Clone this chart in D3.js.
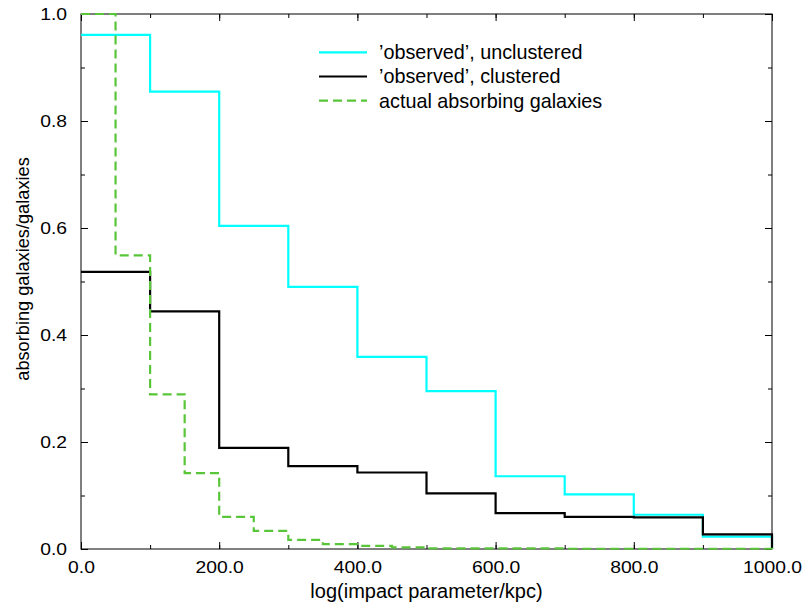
<!DOCTYPE html>
<html>
<head>
<meta charset="utf-8">
<script src="https://cdn.jsdelivr.net/npm/d3@7"></script>
<style>
  html, body { margin: 0; padding: 0; background: #fff; }
  text { font-family: "Liberation Sans", Arial, Helvetica, sans-serif; fill: #000; }
</style>
</head>
<body>
<div id="chart"></div>
<script>
// histogram bins (impact parameter, kpc)
const coarseEdges = [0, 100, 200, 300, 400, 500, 600, 700, 800, 900, 1000];
const fineEdges = [0, 50, 100, 150, 200, 250, 300, 350, 400, 450, 500,
                   550, 600, 650, 700, 750, 800, 850, 900, 950, 1000];

// fraction of absorbing galaxies per bin
const unclustered = [0.961, 0.855, 0.604, 0.490, 0.359, 0.295, 0.136, 0.102, 0.064, 0.023];
const clustered = [0.518, 0.444, 0.189, 0.155, 0.143, 0.104, 0.067, 0.060, 0.059, 0.0275];
const actual = [1.0, 0.549, 0.289, 0.142, 0.060, 0.034, 0.017, 0.009, 0.006, 0.003,
                0.001, 0.001, 0.001, 0.001, 0.0005, 0.0005, 0.0005, 0.0005, 0.0005, 0.0005];

const legendLabels = ["\u2019observed\u2019, unclustered", "\u2019observed\u2019, clustered", "actual absorbing galaxies"];
const xTickValues = [0, 200, 400, 600, 800, 1000];
const yTickValues = [0, 0.2, 0.4, 0.6, 0.8, 1.0];

const width = 804, height = 604;
const margin = { top: 14, right: 32, bottom: 55, left: 81 };

const x = d3.scaleLinear().domain([0, 1000]).range([margin.left, width - margin.right]);
const y = d3.scaleLinear().domain([0, 1]).range([height - margin.bottom, margin.top]);

const svg = d3.select("#chart").append("svg")
    .attr("width", width)
    .attr("height", height);

svg.append("rect").attr("width", width).attr("height", height).attr("fill", "#fff");

// stretch tick text horizontally (the original labels are wide)
function stretch(sel, k) {
    sel.each(function () {
        const w = this.getComputedTextLength();
        d3.select(this).attr("textLength", w * k).attr("lengthAdjust", "spacingAndGlyphs");
    });
}

const fmt = d3.format(".1f");
const x0 = height - margin.bottom, y0 = margin.left;

// minor ticks on all sides
const minorX = d3.range(0, 1001, 100);
const minorY = d3.range(0, 1.001, 0.1);
svg.append("g").attr("transform", `translate(0,${x0})`)
    .call(d3.axisBottom(x).tickValues(minorX).tickSize(-4).tickFormat(""))
    .call(g => g.select(".domain").remove());
svg.append("g").attr("transform", `translate(0,${margin.top})`)
    .call(d3.axisTop(x).tickValues(minorX).tickSize(-4).tickFormat(""))
    .call(g => g.select(".domain").remove());
svg.append("g").attr("transform", `translate(${y0},0)`)
    .call(d3.axisLeft(y).tickValues(minorY).tickSize(-4).tickFormat(""))
    .call(g => g.select(".domain").remove());
svg.append("g").attr("transform", `translate(${width - margin.right},0)`)
    .call(d3.axisRight(y).tickValues(minorY).tickSize(-4).tickFormat(""))
    .call(g => g.select(".domain").remove());

// major ticks + labels
const xAxis = svg.append("g").attr("transform", `translate(0,${x0})`)
    .call(d3.axisBottom(x).tickValues(xTickValues).tickSize(-7).tickPadding(12).tickFormat(fmt))
    .call(g => g.select(".domain").remove());
const yAxis = svg.append("g").attr("transform", `translate(${y0},0)`)
    .call(d3.axisLeft(y).tickValues(yTickValues).tickSize(-7).tickPadding(14).tickFormat(fmt))
    .call(g => g.select(".domain").remove());
svg.append("g").attr("transform", `translate(0,${margin.top})`)
    .call(d3.axisTop(x).tickValues(xTickValues).tickSize(-7).tickFormat(""))
    .call(g => g.select(".domain").remove());
svg.append("g").attr("transform", `translate(${width - margin.right},0)`)
    .call(d3.axisRight(y).tickValues(yTickValues).tickSize(-7).tickFormat(""))
    .call(g => g.select(".domain").remove());

svg.selectAll(".tick line").attr("stroke", "#000").attr("stroke-width", 1);
xAxis.selectAll("text").attr("font-size", 16.5).style("font-family", "Liberation Sans, Arial, sans-serif");
yAxis.selectAll("text").attr("font-size", 16.5).style("font-family", "Liberation Sans, Arial, sans-serif");
stretch(xAxis.selectAll("text"), 1.17);
stretch(yAxis.selectAll("text"), 1.17);

// frame
svg.append("rect")
    .attr("x", x(0)).attr("y", y(1))
    .attr("width", x(1000) - x(0)).attr("height", y(0) - y(1))
    .attr("fill", "none").attr("stroke", "#000").attr("stroke-width", 1);

// axis titles
svg.append("text")
    .attr("x", (x(0) + x(1000)) / 2).attr("y", 598)
    .attr("text-anchor", "middle").attr("font-size", 20)
    .text("log(impact parameter/kpc)");
svg.append("text")
    .attr("transform", `translate(29,${269}) rotate(-90)`)
    .attr("text-anchor", "middle").attr("font-size", 18.2)
    .text("absorbing galaxies/galaxies");

// step histograms (no rise at x=0, drop to zero at the far end)
function stepPoints(edges, vals) {
    const pts = [];
    vals.forEach((v, i) => { pts.push([edges[i], v]); pts.push([edges[i + 1], v]); });
    pts.push([edges[edges.length - 1], 0]);
    return pts;
}
const line = d3.line().x(d => x(d[0])).y(d => y(d[1]));

const series = [
    { vals: unclustered, edges: coarseEdges, color: "#00ffff", dash: null },
    { vals: clustered, edges: coarseEdges, color: "#000000", dash: null },
    { vals: actual, edges: fineEdges, color: "#59c63a", dash: "9,5" }
];

series.forEach(s => {
    svg.append("path")
        .datum(stepPoints(s.edges, s.vals))
        .attr("d", line)
        .attr("fill", "none")
        .attr("stroke", s.color)
        .attr("stroke-width", 2.2)
        .attr("stroke-dasharray", s.dash);
});

// legend
const legend = svg.append("g");
series.forEach((s, i) => {
    const ly = 52.3 + i * 24.2;
    legend.append("line")
        .attr("x1", 319).attr("x2", 367).attr("y1", ly).attr("y2", ly)
        .attr("stroke", s.color).attr("stroke-width", 2.2)
        .attr("stroke-dasharray", s.dash);
    legend.append("text")
        .attr("x", 379).attr("y", ly).attr("dy", "0.35em")
        .attr("font-size", 19.8)
        .text(legendLabels[i]);
});
</script>
</body>
</html>
